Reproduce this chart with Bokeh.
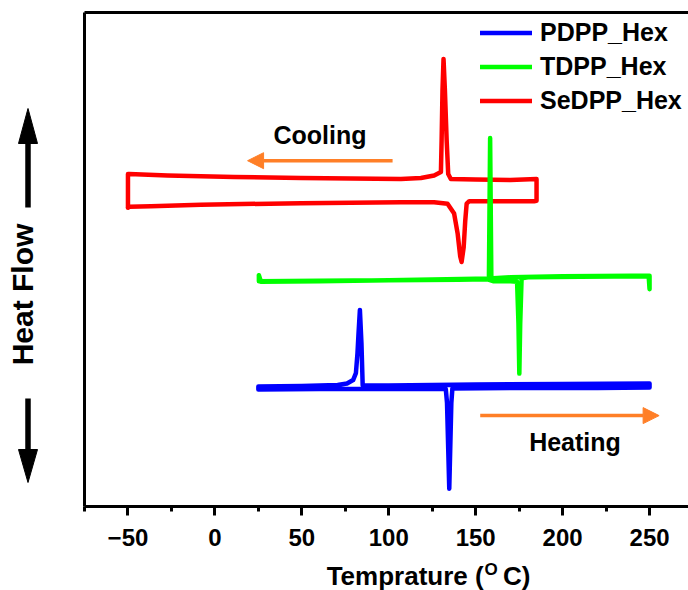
import numpy as np
from bokeh.plotting import figure
from bokeh.models import Range1d, FixedTicker, LinearAxis, Legend, LegendItem, Arrow, NormalHead
from bokeh.layouts import row, column
from bokeh.embed import file_html
from bokeh.resources import INLINE
from bokeh.core.properties import value

FONT = "Liberation Sans"
BLUE, GREEN, RED, ORANGE = "#0000ff", "#00ff00", "#ff0000", "#ff7f27"

# ---- data (temperature in degC, heat flow in arbitrary units) ----
x_major_ticks = [-50, 0, 50, 100, 150, 200, 250]
x_minor_ticks = [-75, -25, 25, 75, 125, 175, 225, 275]

series_names = ["PDPP_Hex", "TDPP_Hex", "SeDPP_Hex"]

pdpp_heat_T = [25.0, 60.0, 100.0, 132.8, 133.5, 134.8, 136.0, 136.6, 180.0, 220.0, 250.0]
pdpp_heat_y = [23.7, 23.8, 23.8, 23.8, 21.0, 3.6, 21.0, 23.9, 24.0, 24.0, 24.1]
pdpp_cool_T = [250.0, 200.0, 150.0, 100.0, 85.0, 84.3, 83.4, 82.6, 82.0, 81.1, 79.5, 76.0, 70.6, 50.0, 25.0]
pdpp_cool_y = [24.9, 24.8, 24.7, 24.5, 24.5, 33.0, 39.8, 35.0, 31.0, 27.0, 25.6, 24.9, 24.6, 24.4, 24.3]

tdpp_heat_T = [25.3, 26.5, 60.0, 100.0, 150.0, 156.0, 160.0, 170.0, 173.8, 174.6, 175.1, 175.6, 176.4, 180.0, 210.0, 249.5, 250.0]
tdpp_heat_y = [46.8, 45.5, 45.6, 45.8, 46.1, 46.1, 45.6, 45.6, 45.5, 37.0, 26.9, 37.0, 46.2, 46.4, 46.5, 46.6, 44.0]
tdpp_cool_T = [250.0, 240.0, 200.0, 170.0, 160.0, 159.0, 158.3, 157.6, 156.5, 140.0, 100.0, 60.0, 25.3]
tdpp_cool_y = [46.7, 46.7, 46.6, 46.4, 46.2, 46.2, 74.6, 46.1, 46.0, 45.9, 45.8, 45.7, 45.6]

sedpp_heat_T = [-50.0, -49.3, -36.8, -8.1, 49.5, 107.0, 126.1, 133.8, 137.6, 139.6, 141.1, 141.9, 143.1, 144.0, 144.8, 146.3, 160.0, 183.6, 185.0]
sedpp_heat_y = [60.5, 60.7, 60.8, 61.1, 61.4, 61.6, 61.6, 61.3, 59.3, 55.3, 50.6, 49.5, 52.5, 57.9, 61.3, 61.8, 61.8, 61.8, 61.9]
sedpp_cool_T = [185.0, 170.0, 150.0, 135.7, 134.2, 133.3, 132.3, 131.5, 130.9, 130.4, 130.0, 126.1, 118.5, 107.0, 49.5, 11.1, -27.2, -49.3, -50.0]
sedpp_cool_y = [66.3, 66.1, 66.2, 66.3, 67.3, 74.1, 84.2, 90.6, 84.2, 74.1, 67.7, 67.0, 66.5, 66.3, 66.5, 66.7, 67.0, 67.3, 67.3]


def loop(hT, hy, cT, cy):
    return hT + cT + [hT[0]], hy + cy + [hy[0]]


# ---- left side: "Heat Flow" with arrows ----
side = figure(width=60, height=590, x_range=Range1d(0, 60), y_range=Range1d(590, 0),
              x_axis_location=None, y_axis_location=None, min_border=0,
              outline_line_color=None, output_backend="svg", toolbar_location=None)
side.grid.visible = False
side.segment(x0=[27.5, 27.5], y0=[140, 398], x1=[27.5, 27.5], y1=[207, 452],
             line_width=5.5, line_color="black")
side.patches(xs=[[27.5, 18.0, 37.0], [27.5, 18.0, 37.0]],
             ys=[[108, 143, 143], [482, 449, 449]], fill_color="black", line_color="black")
side.text(x=[22], y=[294], text=["Heat Flow"], angle=np.pi / 2, text_align="center",
          text_baseline="alphabetic", text_font=value(FONT), text_font_style="bold",
          text_font_size="30px", text_color="black")

# ---- main plot ----
main = figure(width=628, height=555, x_range=Range1d(-75, 272.4), y_range=Range1d(0, 100),
              min_border_left=24, min_border_right=0, min_border_top=12, min_border_bottom=49,
              outline_line_color=None, output_backend="svg", toolbar_location=None)
main.grid.visible = False

xa = main.xaxis[0]
xa.ticker = FixedTicker(ticks=x_major_ticks, minor_ticks=x_minor_ticks)
xa.axis_line_width = 3
xa.major_tick_line_width = 3
xa.minor_tick_line_width = 3
xa.major_tick_in = 0
xa.major_tick_out = 9
xa.minor_tick_in = 0
xa.minor_tick_out = 5
xa.major_label_standoff = 13
xa.major_label_text_font = FONT
xa.major_label_text_font_style = "bold"
xa.major_label_text_font_size = "24px"
xa.major_label_text_color = "black"

ya = main.yaxis[0]
ya.ticker = FixedTicker(ticks=[])
ya.axis_line_width = 3
ya.major_tick_out = 0
ya.minor_tick_out = 0
ya.major_tick_in = 0
ya.minor_tick_in = 0
ya.major_label_standoff = 0
ya.major_label_text_font_size = "0px"

top_axis = LinearAxis(ticker=FixedTicker(ticks=[]), axis_line_width=3, major_tick_out=0,
                      minor_tick_out=0, major_tick_in=0, minor_tick_in=0,
                      major_label_standoff=0, major_label_text_font_size="0px")
main.add_layout(top_axis, "above")

T, y = loop(sedpp_heat_T, sedpp_heat_y, sedpp_cool_T, sedpp_cool_y)
r_red = main.line(T, y, line_color=RED, line_width=4.5, line_join="round", line_cap="round")
T, y = loop(tdpp_heat_T, tdpp_heat_y, tdpp_cool_T, tdpp_cool_y)
r_green = main.line(T, y, line_color=GREEN, line_width=4.5, line_join="round", line_cap="round")
T, y = loop(pdpp_heat_T, pdpp_heat_y, pdpp_cool_T, pdpp_cool_y)
r_blue = main.line(T, y, line_color=BLUE, line_width=4.5, line_join="round", line_cap="round")

main.add_layout(Arrow(end=NormalHead(size=16, fill_color=ORANGE, line_color=ORANGE),
                      x_start=102.2, y_start=70.0, x_end=18.8, y_end=70.0,
                      line_color=ORANGE, line_width=3.5))
main.add_layout(Arrow(end=NormalHead(size=16, fill_color=ORANGE, line_color=ORANGE),
                      x_start=152.6, y_start=18.4, x_end=255.5, y_end=18.4,
                      line_color=ORANGE, line_width=3.5))
main.text(x=[60.4, 207.1], y=[75.2, 13.0], text=["Cooling", "Heating"], text_align="center",
          text_baseline="alphabetic", text_font=value(FONT), text_font_style="bold",
          text_font_size="25px", text_color="black")

legend = Legend(items=[LegendItem(label=series_names[0], renderers=[r_blue]),
                       LegendItem(label=series_names[1], renderers=[r_green]),
                       LegendItem(label=series_names[2], renderers=[r_red])],
                location=(396, 391), border_line_color=None, background_fill_alpha=0,
                padding=0, margin=0, glyph_width=52, glyph_height=25, label_height=25,
                label_standoff=8, spacing=5, label_text_font=FONT,
                label_text_font_style="bold", label_text_font_size="25px",
                label_text_color="black")
main.add_layout(legend)

# ---- x-axis title ----
tf = figure(width=628, height=35, x_range=Range1d(60, 688), y_range=Range1d(590, 555),
            x_axis_location=None, y_axis_location=None, min_border=0,
            outline_line_color=None, output_backend="svg", toolbar_location=None)
tf.grid.visible = False
common = dict(text_baseline="alphabetic", text_font=value(FONT), text_font_style="bold",
              text_color="black")
tf.text(x=[475], y=[575], text=["Temprature ("], text_align="right", text_font_size="26px", **common)
tf.text(x=[476], y=[569], text=["O"], text_align="left", text_font_size="17px", **common)
tf.text(x=[495], y=[575], text=["C)"], text_align="left", text_font_size="26px", **common)

layout = row(side, column(main, tf))
open("out.html", "w").write(file_html(layout, INLINE))
